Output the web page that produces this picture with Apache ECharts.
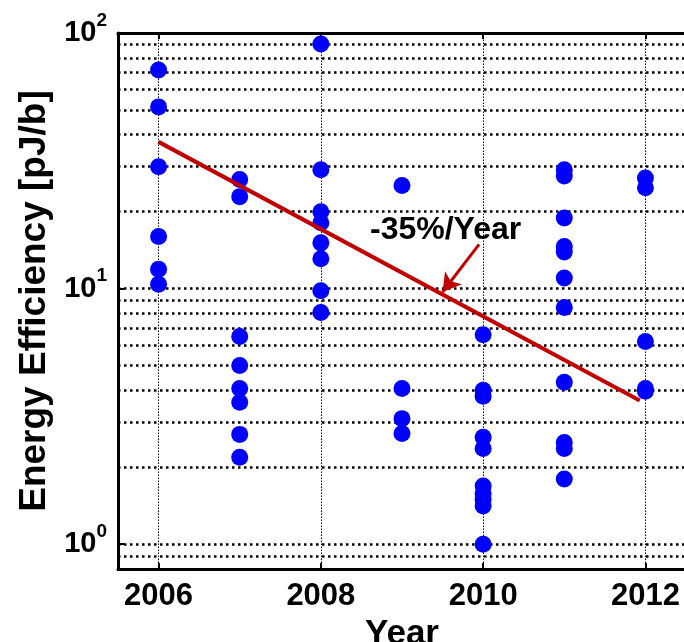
<!DOCTYPE html>
<html>
<head>
<meta charset="utf-8">
<script src="https://cdn.jsdelivr.net/npm/echarts@6/dist/echarts.min.js"></script>
<style>
html,body{margin:0;padding:0;background:#fff;}
#chart{width:684px;height:642px;}
</style>
</head>
<body>
<div id="chart"></div>
<script>
// ---- data ----
const years = [2006, 2007, 2008, 2009, 2010, 2011, 2012];
const eff2006 = [71.7, 51.4, 30.0, 16.0, 11.9, 10.4];
const eff2007 = [26.7, 22.9, 6.5, 5.0, 4.07, 3.59, 2.69, 2.19];
const eff2008 = [90.6, 29.2, 20.0, 18.1, 15.1, 13.1, 9.8, 8.06];
const eff2009 = [25.3, 4.07, 3.1, 2.71];
const eff2010 = [6.6, 4.0, 3.79, 2.62, 2.37, 1.69, 1.58, 1.50, 1.41, 1.0];
const eff2011 = [29.2, 27.6, 18.9, 14.6, 13.9, 11.0, 8.43, 4.3, 2.5, 2.37, 1.80];
const eff2012 = [27.1, 24.8, 6.21, 4.07, 3.97];
const effByYear = [eff2006, eff2007, eff2008, eff2009, eff2010, eff2011, eff2012];

const trendX = [2006, 2011.93];
const trendY = [37.5, 3.65];
const arrowFrom = [2009.95, 14.9];
const arrowTo = [2009.5, 9.7];
const trendLabel = '-35%/Year';

const xTickValues = [2006, 2008, 2010, 2012];
const yGridValues = [0.9, 1, 2, 3, 4, 5, 6, 7, 8, 9, 10, 20, 30, 40, 50, 60, 70, 80, 90];
const yLabelValues = [1, 10, 100];
const xRange = [2005.5, 2012.5];
const yRange = [0.8, 100];

// ---- build ----
const scatterData = [];
years.forEach((yr, i) => effByYear[i].forEach(v => scatterData.push([yr, v])));
const trendData = trendX.map((x, i) => [x, trendY[i]]);

const FONT = '"Liberation Sans", Arial, Helvetica, sans-serif';

const gridLines = [];
xTickValues.forEach(v => gridLines.push({
  xAxis: v,
  lineStyle: {color: '#000', width: 1, type: [1.5, 1.5]}
}));
yGridValues.forEach(v => gridLines.push({
  yAxis: v,
  lineStyle: {color: '#000', width: 2.5, type: [2.5, 3.5]}
}));

const chart = echarts.init(document.getElementById('chart'), null, {renderer: 'canvas'});
chart.setOption({
  animation: false,
  backgroundColor: '#fff',
  grid: {left: 118, top: 33, width: 568, height: 536, show: false, containLabel: false, outerBoundsMode: 'none'},
  xAxis: [{
    type: 'value',
    min: xRange[0], max: xRange[1],
    name: 'Year',
    nameLocation: 'middle',
    nameGap: 38,
    nameTextStyle: {fontFamily: FONT, fontWeight: 'bold', fontSize: 35, color: '#000'},
    axisLine: {show: true, onZero: false, lineStyle: {color: '#000', width: 3}},
    axisTick: {show: true, inside: true, length: 6, customValues: xTickValues, lineStyle: {color: '#000', width: 2}},
    axisLabel: {customValues: xTickValues, margin: 12, fontFamily: FONT, fontWeight: 'bold', fontSize: 31, color: '#000',
      formatter: v => String(v)},
    splitLine: {show: false}
  }, {
    type: 'value',
    position: 'top',
    min: xRange[0], max: xRange[1],
    axisLine: {show: true, onZero: false, lineStyle: {color: '#000', width: 3}},
    axisTick: {show: true, inside: true, length: 6, customValues: xTickValues, lineStyle: {color: '#000', width: 2}},
    axisLabel: {show: false},
    splitLine: {show: false}
  }],
  yAxis: {
    type: 'log',
    logBase: 10,
    min: yRange[0], max: yRange[1],
    name: 'Energy Efficiency [pJ/b]',
    nameLocation: 'middle',
    nameGap: 62,
    nameRotate: 90,
    nameTextStyle: {fontFamily: FONT, fontWeight: 'bold', fontSize: 37, color: '#000'},
    axisLine: {show: true, onZero: false, lineStyle: {color: '#000', width: 3}},
    axisTick: {show: true, inside: true, length: 6, customValues: yLabelValues, lineStyle: {color: '#000', width: 2}},
    axisLabel: {
      customValues: yLabelValues,
      margin: 11,
      formatter: v => '{b|10}{s|' + Math.round(Math.log10(v)) + '}',
      rich: {
        b: {fontFamily: FONT, fontWeight: 'bold', fontSize: 29, color: '#000'},
        s: {fontFamily: FONT, fontWeight: 'bold', fontSize: 19, color: '#000', padding: [0, 0, 25, 0]}
      }
    },
    splitLine: {show: false},
    minorTick: {show: false}
  },
  graphic: [{
    type: 'text',
    left: 370, top: 214,
    style: {text: trendLabel, font: 'bold 32px ' + FONT, fill: '#000'},
    z: 10
  }],
  series: [{
    type: 'scatter',
    data: scatterData,
    symbol: 'circle',
    symbolSize: 17,
    itemStyle: {color: '#0000ff', opacity: 1},
    z: 3,
    markLine: {
      z: 1,
      silent: true,
      symbol: ['none', 'none'],
      label: {show: false},
      emphasis: {disabled: true},
      data: gridLines
    }
  }, {
    type: 'line',
    data: trendData,
    showSymbol: false,
    symbol: 'none',
    lineStyle: {color: '#c00000', width: 4},
    z: 4,
    markLine: {
      z: 6,
      silent: true,
      symbol: ['none', 'arrow'],
      symbolSize: [16, 18],
      label: {show: false},
      lineStyle: {color: '#c00000', width: 3, type: 'solid'},
      emphasis: {disabled: true},
      data: [[{coord: arrowFrom}, {coord: arrowTo}]]
    }
  }]
});
</script>
</body>
</html>
